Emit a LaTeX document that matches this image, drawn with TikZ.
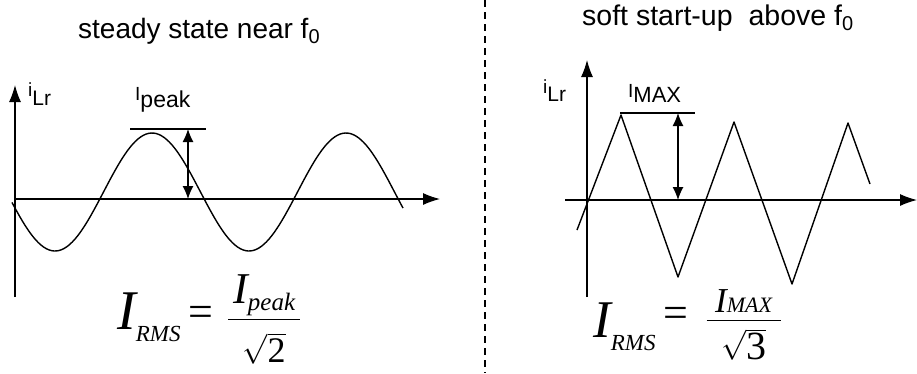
\documentclass[tikz,border=0pt]{standalone}
\usepackage{fix-cm}
\usepackage{amsmath}
\usepackage{fontspec}
\setmainfont{Liberation Sans}
\newfontfamily\tnr{Liberation Serif}
\usetikzlibrary{arrows.meta,positioning}
\newcommand{\fs}[1]{\fontsize{#1}{#1}\selectfont}
\newcommand{\lowsub}[3]{\raisebox{-#1pt}{\fs{#2}#3}}
\newcommand{\eqsign}{\mathrel{\text{\tnr\fs{44}=}}}

\begin{document}
\begin{tikzpicture}[x=1pt, y=-1pt]
\tikzstyle{lbl}=[inner sep=0pt, anchor=base west]
\tikzstyle{axis}=[-{Latex[length=17pt,width=12pt]}, line width=1.2pt]
\tikzstyle{wave}=[line width=1.4pt, line join=round]
\tikzstyle{span}=[{Latex[length=13pt,width=11pt]}-{Latex[length=13pt,width=11pt]}, line width=1.2pt]
\useasboundingbox (0,0) rectangle (917,373);

\coordinate (oL) at (15,199);
\coordinate (yL) at (15,85);
\coordinate (bL) at (15,297);
\coordinate (xL) at (440,199);
\draw[axis] (bL) -- (yL);
\draw[axis] (oL) -- (xL);
\draw[wave] plot[domain=12:403, samples=150] (\x, {192-59*sin((\x-103.5)/194*360)});
\coordinate (pkL) at (130,129);
\coordinate (pkLe) at (206,129);
\draw[line width=1.2pt] (pkL) -- (pkLe);
\coordinate (topL) at (188,129);
\coordinate (botL) at (188,199);
\draw[span] (topL) -- (botL);

\node[lbl] (ttlL) at (78,38) {\fs{28}steady state near f\lowsub{5}{20}{0}};
\node[lbl] (ilrL) at (28,96) {\fs{19}i\lowsub{9}{21}{Lr}};
\node[lbl] (ipk) at (135,100) {\fs{19}I\lowsub{7}{23}{peak}};
\node[lbl] (rmsL) at (117,326.5) {\fs{30}$\raisebox{-2.5pt}{\tnr\itshape\fs{56}I\lowsub{12}{23}{RMS}}
  \eqsign\,\dfrac{\makebox[72pt]{\tnr\itshape\fs{44}I\lowsub{7}{25}{peak}}}{\raisebox{-15pt}[\height]{$\sqrt{\text{\tnr\fs{36}2}}$}}$};

\coordinate (sepT) at (485,0);
\coordinate (sepB) at (485,373);
\draw[line width=1.6pt, dash pattern=on 7pt off 5pt] (sepT) -- (sepB);

\coordinate (oR) at (565,200);
\coordinate (yR) at (587,60);
\coordinate (bR) at (587,297);
\coordinate (xR) at (917,200);
\draw[axis] (bR) -- (yR);
\draw[axis] (oR) -- (xR);
\draw[wave] (577,230) -- (621,115) -- (678,277) -- (734,122) -- (792,284) -- (848,123) -- (870,184);
\coordinate (pkR) at (620,113);
\coordinate (pkRe) at (695,113);
\draw[line width=1.2pt] (pkR) -- (pkRe);
\coordinate (topR) at (678,113);
\coordinate (botR) at (678,200);
\draw[span] (topR) -- (botR);

\node[lbl] (ttlR) at (582,25) {\fs{28.5}soft start-up\hspace{8pt} above f\lowsub{5}{20}{0}};
\node[lbl] (ilrR) at (543,93) {\fs{19}i\lowsub{8}{21}{Lr}};
\node[lbl] (imax) at (628,97) {\fs{19}I\lowsub{5}{22}{MAX}};
\node[lbl] (rmsR) at (593,327.5) {\fs{30}$\raisebox{-9.5pt}{\tnr\itshape\fs{53}I\lowsub{13}{23}{RMS}}
  \eqsign\;\dfrac{\makebox[74pt]{\raisebox{-5pt}[\height][0pt]{\tnr\itshape\fs{35}I\fs{22}MAX}}}{\raisebox{-11pt}[\height]{$\sqrt{\text{\tnr\fs{40}3}}$}}$};
\end{tikzpicture}
\end{document}
